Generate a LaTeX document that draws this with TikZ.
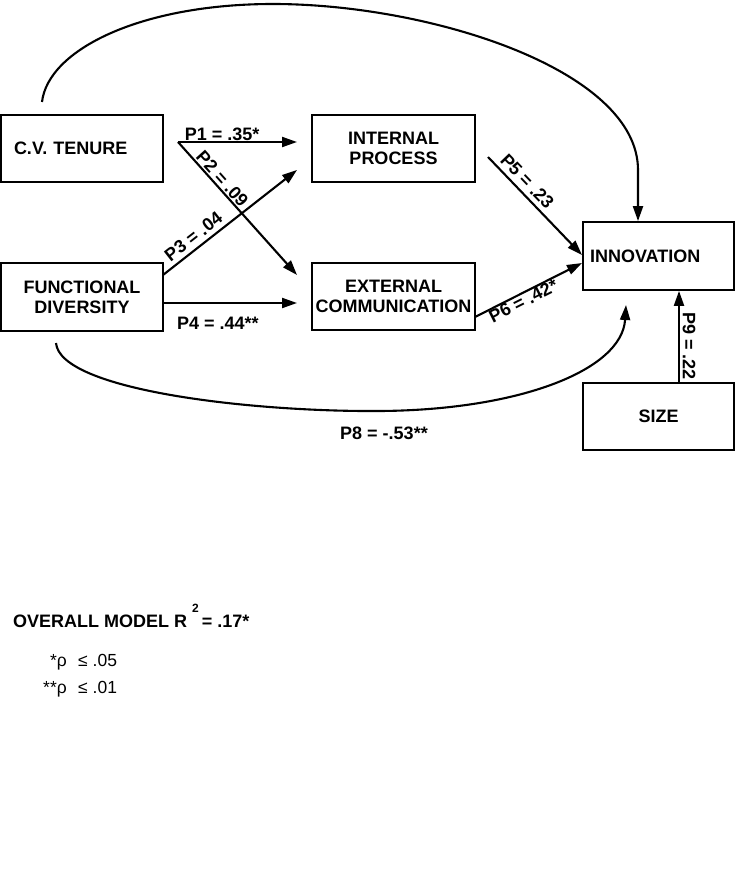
\documentclass[tikz,border=0pt]{standalone}
\usepackage{fontspec}
\setmainfont{Liberation Sans}
\usetikzlibrary{arrows.meta}
\tikzset{
  box/.style={draw, line width=1.8pt, inner sep=0pt, minimum width=163pt, minimum height=67pt,
    align=center, font=\fontsize{18}{20}\selectfont\bfseries},
  conn/.style={line width=2.1pt, -{Triangle[length=15pt,width=10pt]}},
  lab/.style={font=\fontsize{18}{20}\selectfont\bfseries, inner sep=1pt},
  legend/.style={font=\fontsize{17.5}{20}\selectfont, inner sep=0pt},
}
\begin{document}
\begin{tikzpicture}[x=1pt,y=-1pt]
\useasboundingbox (0,0) rectangle (743,896);

% boxes
\node[box, minimum width=162pt, text width=136pt, inner xsep=13pt, align=left] (cv) at (82,148.5) {C.V. TENURE};
\node[box, minimum width=162pt, minimum height=68pt] (fd) at (82,297) {FUNCTIONAL\\DIVERSITY};
\node[box] (ip) at (393.5,148.5) {INTERNAL\\PROCESS};
\node[box] (ec) at (393.5,296.5) {EXTERNAL\\COMMUNICATION};
\node[box, minimum width=151pt, minimum height=68pt, text width=137pt, inner xsep=7pt, align=left] (inn) at (658.5,256) {INNOVATION};
\node[box, minimum width=151pt] (size) at (658.5,416.5) {SIZE};

% connector end points
\coordinate (p12) at (178,142);
\coordinate (e1) at (297,142);
\coordinate (e2) at (297,275);
\coordinate (s3) at (163,275);
\coordinate (e3) at (297,170);
\coordinate (s4) at (163,303);
\coordinate (e4) at (297,303);
\coordinate (s5) at (488,157);
\coordinate (e5) at (582,255);
\coordinate (s6) at (475,317);
\coordinate (e6) at (582,263);
\coordinate (ct) at (42,102);
\coordinate (cb) at (56,343);
\coordinate (e8) at (626,305);

% straight paths
\draw[conn] (p12) -- node[lab, above, inner sep=0pt, pos=0.37] (l1) {P1 = .35*} (e1);
\draw[conn] (p12) -- node[lab, sloped, above, pos=0.32] (l2) {P2 = .09} (e2);
\draw[conn] (s3) -- node[lab, sloped, above, inner sep=4pt, pos=0.28] (l3) {P3 = .04} (e3);
\draw[conn] (s4) -- node[lab, below=12pt, pos=0.41] (l4) {P4 = .44**} (e4);
\draw[conn] (s5) -- node[lab, sloped, above, inner sep=4pt, pos=0.33] (l5) {P5 = .23} (e5);
\draw[conn] (s6) -- node[lab, sloped, below, inner sep=0pt, pos=0.42] (l6) {P6 = .42*} (e6);
\draw[conn] (size.north -| 679,0) -- (inn.south -| 679,0);
\node[lab, rotate=-90] (l9) at (689,346) {P9 = .22};

% curved paths
\draw[conn] (ct) .. controls (48,50) and (140,4) .. (273,4)
  .. controls (430,4) and (638,70) .. (638,170) -- (inn.north -| 638,0);
\draw[conn] (cb) .. controls (60,390) and (250,412) .. (380,411)
  .. controls (520,410) and (622,370) .. (e8);
\node[lab] (l8) at (384,433) {P8 = -.53**};

% model fit and legend
\node[lab, anchor=base west, inner sep=0pt] (r2) at (13,627)
  {OVERALL MODEL R\kern5pt\raisebox{15pt}{\fontsize{12}{12}\selectfont 2}\kern3pt= .17*};
\node[legend, anchor=base east] (a1) at (67,666) {*ρ};
\node[legend, anchor=base west] (b1) at (78,666) {≤ .05};
\node[legend, anchor=base east] (a2) at (67,693) {**ρ};
\node[legend, anchor=base west] (b2) at (78,693) {≤ .01};
\end{tikzpicture}
\end{document}
